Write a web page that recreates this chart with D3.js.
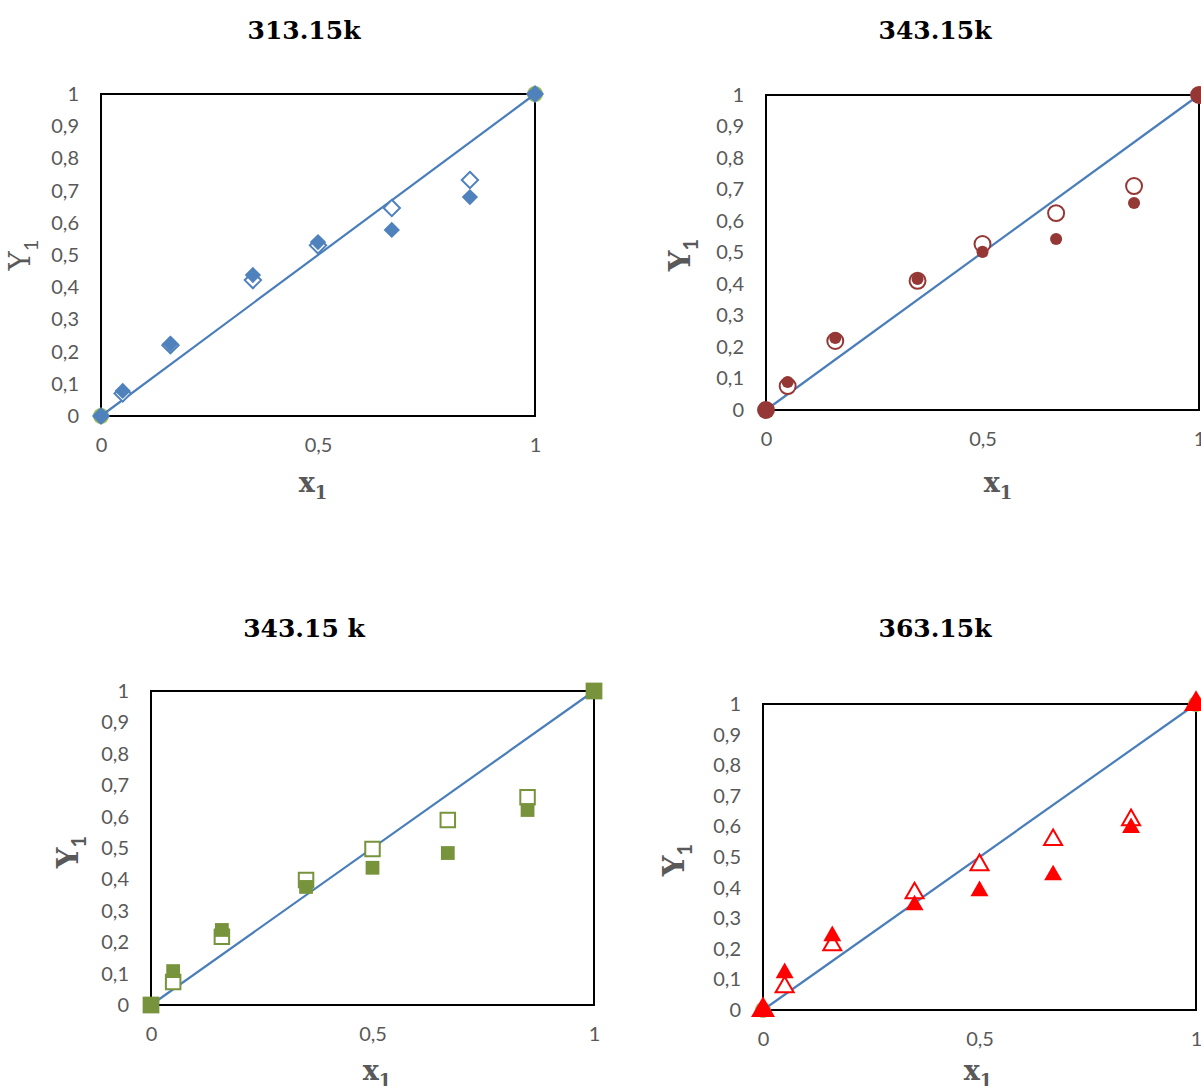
<!DOCTYPE html>
<html>
<head>
<meta charset="utf-8">
<script src="https://cdn.jsdelivr.net/npm/d3@7"></script>
<style>
  body { margin: 0; background: #fff; }
  svg { display: block; }
</style>
</head>
<body>
<svg id="chart"></svg>
<script>
// shared compositions (liquid mole fraction)
var x1 = [0.05, 0.16, 0.35, 0.5, 0.67, 0.85];
var yTicks = [0, 0.1, 0.2, 0.3, 0.4, 0.5, 0.6, 0.7, 0.8, 0.9, 1];
var xTicks = [0, 0.5, 1];
var diagonal = [0, 1];
var ends = [0, 1];

// 313.15k
var y313exp = [0.078, 0.224, 0.438, 0.54, 0.578, 0.68];
var y313calc = [0.07, 0.22, 0.422, 0.53, 0.646, 0.733];
// 343.15k (top right)
var y343aExp = [0.089, 0.229, 0.416, 0.502, 0.543, 0.657];
var y343aCalc = [0.076, 0.219, 0.41, 0.527, 0.625, 0.711];
// 343.15 k (bottom left)
var y343bExp = [0.108, 0.239, 0.376, 0.437, 0.484, 0.621];
var y343bCalc = [0.073, 0.217, 0.398, 0.497, 0.589, 0.662];
// 363.15k
var y363exp = [0.121, 0.242, 0.343, 0.389, 0.441, 0.595];
var y363calc = [0.075, 0.212, 0.382, 0.474, 0.556, 0.621];

var svg = d3.select('#chart').attr('width', 1201).attr('height', 1086);

var panels = [
  { title: '313.15k', exp: y313exp, calc: y313calc, color: '#4F81BD', shape: d3.symbolDiamond2,
    box: { l: 101, r: 535, t: 94, b: 416 }, tx: 304, ty: 39, xlab: [313, 492], ylab: [30, 255], yBold: false,
    sz: 170, endSz: 210, greenEnds: true },
  { title: '343.15k', exp: y343aExp, calc: y343aCalc, color: '#953735', shape: d3.symbolCircle,
    box: { l: 766, r: 1199, t: 95, b: 410 }, tx: 935, ty: 39, xlab: [998, 492], ylab: [690, 255], yBold: true,
    sz: 115, endSz: 250, calcSz: 200 },
  { title: '343.15 k', exp: y343bExp, calc: y343bCalc, color: '#77933C', shape: d3.symbolSquare,
    box: { l: 151, r: 594, t: 691, b: 1005 }, tx: 304, ty: 637, xlab: [377, 1080], ylab: [78, 852], yBold: true,
    sz: 190, endSz: 280, calcSz: 210 },
  { title: '363.15k', exp: y363exp, calc: y363calc, color: '#FF0000', shape: d3.symbolTriangle,
    box: { l: 763, r: 1196, t: 704, b: 1010 }, tx: 935, ty: 637, xlab: [978, 1080], ylab: [684, 860], yBold: true,
    sz: 140, endSz: 250, greenEnds: true }
];

panels.forEach(function(p) {
  var g = svg.append('g');
  var x = d3.scaleLinear().domain([0, 1]).range([p.box.l, p.box.r]);
  var y = d3.scaleLinear().domain([0, 1]).range([p.box.b, p.box.t]);
  var comma = function(d) { return String(d).replace('.', ','); };

  g.append('text')
    .attr('x', p.tx).attr('y', p.ty)
    .attr('text-anchor', 'middle')
    .style('font-family', '"DejaVu Serif", serif')
    .style('font-weight', 'bold')
    .style('font-size', '25px')
    .text(p.title);

  // frame
  g.append('rect')
    .attr('x', x(0)).attr('y', y(1))
    .attr('width', x(1) - x(0)).attr('height', y(0) - y(1))
    .attr('fill', 'none').attr('stroke', '#000').attr('stroke-width', 2);

  var yAxis = g.append('g')
    .attr('transform', 'translate(' + (p.box.l - 22) + ',0)')
    .call(d3.axisLeft(y).tickValues(yTicks).tickFormat(comma).tickSize(0));
  var xAxis = g.append('g')
    .attr('transform', 'translate(0,' + (p.box.b + 22) + ')')
    .call(d3.axisBottom(x).tickValues(xTicks).tickFormat(comma).tickSize(0));
  [yAxis, xAxis].forEach(function(a) {
    a.select('.domain').remove();
    a.selectAll('text')
      .style('font-family', 'Lato, sans-serif')
      .style('font-size', '20px')
      .attr('fill', '#595959');
  });
  yAxis.selectAll('text').attr('x', 0);
  xAxis.selectAll('text').attr('dy', '0.71em').attr('y', 0);

  // axis titles
  var xt = g.append('text')
    .attr('x', p.xlab[0]).attr('y', p.xlab[1])
    .attr('text-anchor', 'middle')
    .style('font-family', '"DejaVu Serif", serif')
    .style('font-weight', 'bold')
    .style('font-size', '27px')
    .attr('fill', '#595959');
  xt.append('tspan').text('x');
  xt.append('tspan').attr('dy', 7).style('font-size', '18px').text('1');

  var yt = g.append('text')
    .attr('transform', 'translate(' + p.ylab[0] + ',' + p.ylab[1] + ') rotate(-90)')
    .attr('text-anchor', 'middle')
    .style('font-family', '"DejaVu Serif", serif')
    .style('font-weight', p.yBold ? 'bold' : 'normal')
    .style('font-size', '29px')
    .attr('fill', '#595959');
  yt.append('tspan').text('Y');
  yt.append('tspan').attr('dy', 8).style('font-size', '20px').style('font-family', 'Lato, sans-serif').text('1');

  if (p.greenEnds) {
    g.selectAll('.gend').data(ends).enter().append('circle')
      .attr('cx', function(d) { return x(d); })
      .attr('cy', function(d) { return y(d); })
      .attr('r', 8).attr('fill', '#9BBB59');
  }

  // ideal diagonal
  g.append('line')
    .attr('x1', x(diagonal[0])).attr('y1', y(diagonal[0]))
    .attr('x2', x(diagonal[1])).attr('y2', y(diagonal[1]))
    .attr('stroke', '#4A7EBB').attr('stroke-width', 2.2);

  var sym = d3.symbol().type(p.shape);

  // calculated (open markers)
  g.selectAll('.calc').data(p.calc).enter().append('path')
    .attr('transform', function(d, i) { return 'translate(' + x(x1[i]) + ',' + y(d) + ')'; })
    .attr('d', sym.size(p.calcSz || p.sz)())
    .attr('fill', '#fff').attr('stroke', p.color).attr('stroke-width', 2);

  // experimental (filled markers)
  g.selectAll('.exp').data(p.exp).enter().append('path')
    .attr('transform', function(d, i) { return 'translate(' + x(x1[i]) + ',' + y(d) + ')'; })
    .attr('d', sym.size(p.sz)())
    .attr('fill', p.color);

  g.selectAll('.end').data(ends).enter().append('path')
    .attr('transform', function(d) { return 'translate(' + x(d) + ',' + y(d) + ')'; })
    .attr('d', sym.size(p.endSz)())
    .attr('fill', p.color);
});
</script>
</body>
</html>
